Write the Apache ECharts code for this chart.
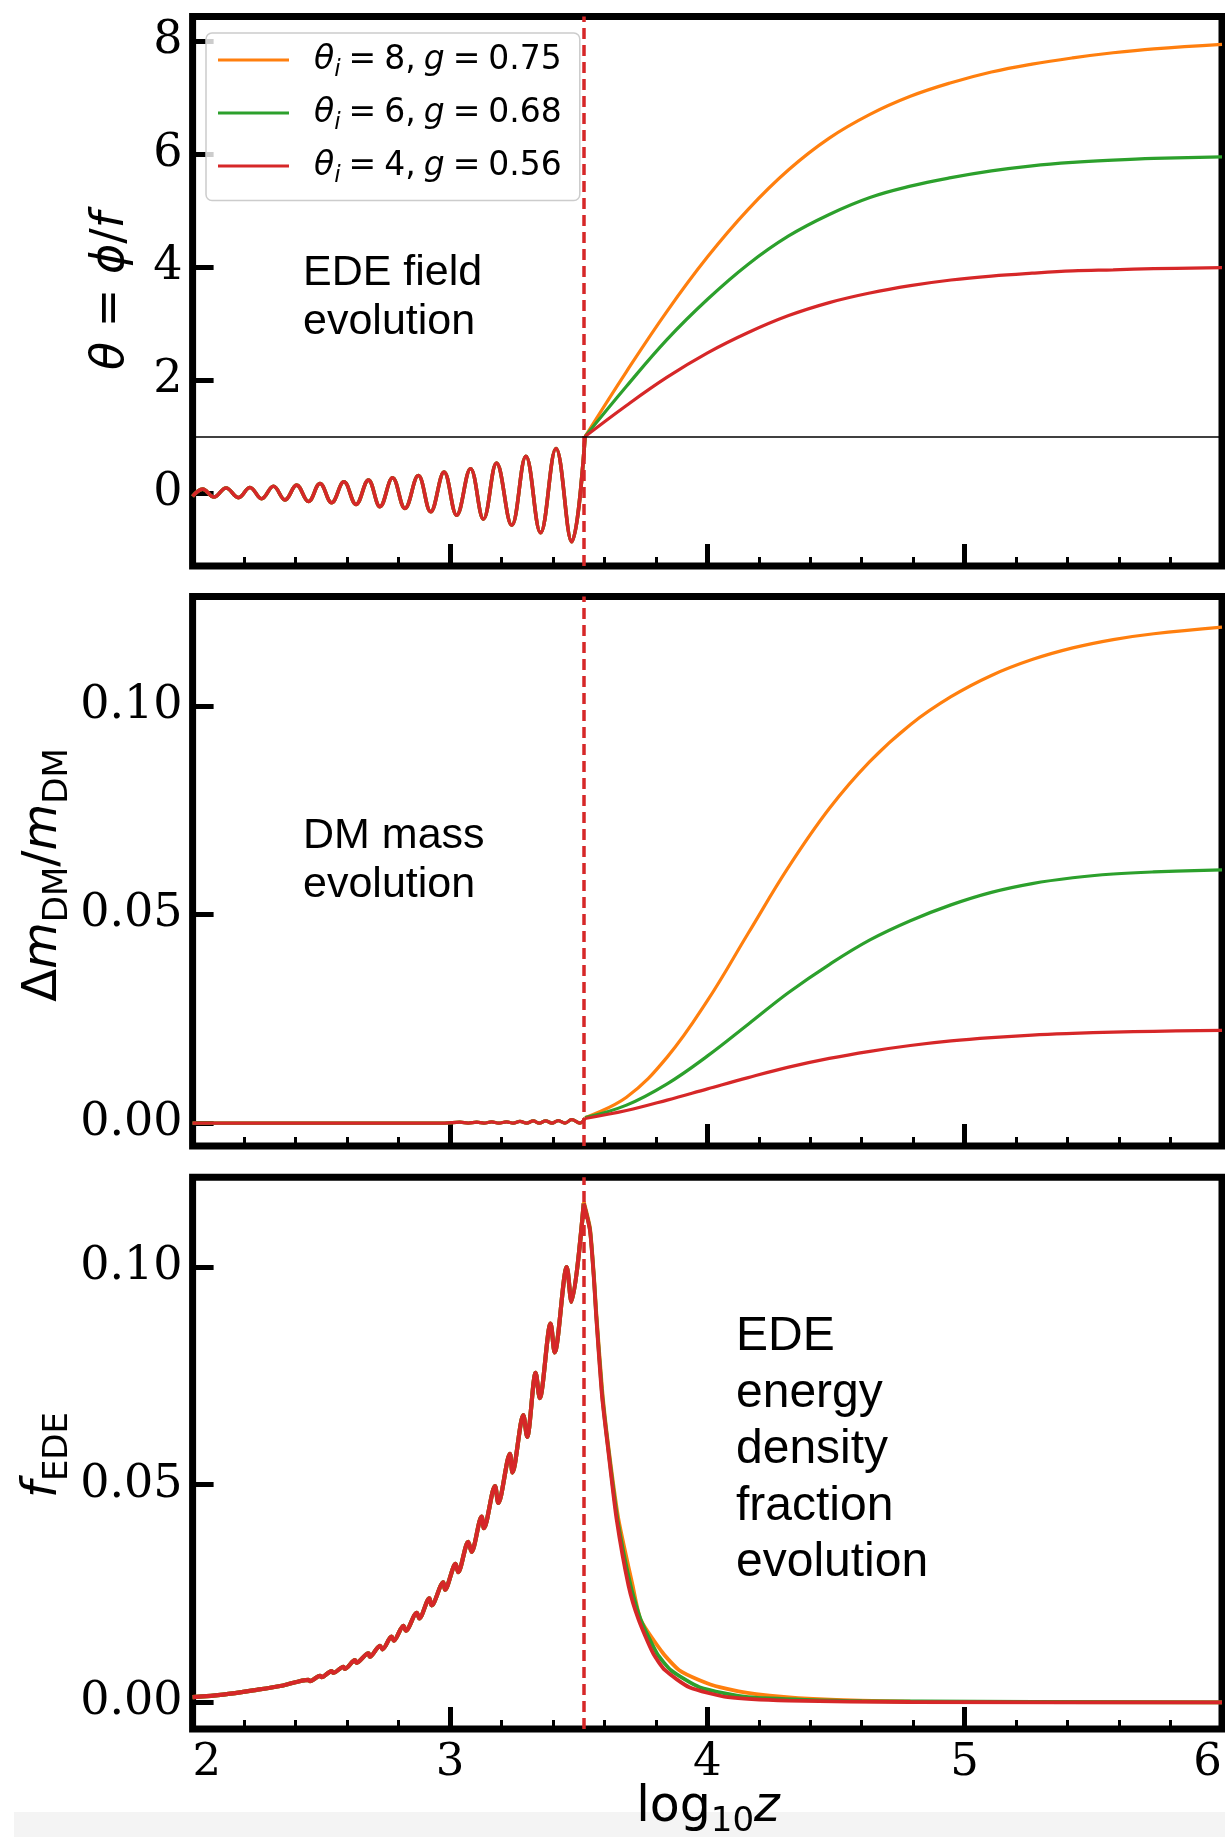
<!DOCTYPE html>
<html>
<head>
<meta charset="utf-8">
<script src="https://cdn.jsdelivr.net/npm/echarts@6/dist/echarts.min.js"></script>
<style>
  html, body { margin: 0; padding: 0; background: #ffffff; }
  #chart { width: 1225px; height: 1837px; }
</style>
</head>
<body>
<div id="chart"></div>
<script>
// ---------------------------------------------------------------
// Data (x = log10 z)
// ---------------------------------------------------------------
const seriesNames = ['θi=8, g=0.75', 'θi=6, g=0.68', 'θi=4, g=0.56'];
const legendLabels = [
  '{gap| }{it|θ}{sub|i}{s| }{n|=}{s| }{n|8,}{s| }{it|g}{s| }{n|=}{s| }{n|0.75}',
  '{gap| }{it|θ}{sub|i}{s| }{n|=}{s| }{n|6,}{s| }{it|g}{s| }{n|=}{s| }{n|0.68}',
  '{gap| }{it|θ}{sub|i}{s| }{n|=}{s| }{n|4,}{s| }{it|g}{s| }{n|=}{s| }{n|0.56}'
];
const lineColors = ['#ff7f0e', '#2ca02c', '#d62728'];

const xRange = [2, 6];
const xTickStep = 1;
const releaseLogZ = 3.525;      // vertical dashed marker
const thetaRef = 1;             // horizontal reference level in the top panel

const yRanges = [[-1.29, 8.43], [-0.0055, 0.1262], [-0.0061, 0.1206]];
const yTickValues = [[0, 2, 4, 6, 8], [0, 0.05, 0.10], [0, 0.05, 0.10]];

// Top panel: field oscillation at low z (identical for all three runs)
const thetaOsc = [
  [2.000,-0.06],[2.039,0.07],[2.083,-0.07],[2.130,0.09],[2.178,-0.08],[2.223,0.10],
  [2.268,-0.10],[2.314,0.12],[2.359,-0.12],[2.404,0.14],[2.450,-0.15],[2.495,0.17],
  [2.540,-0.17],[2.588,0.20],[2.635,-0.20],[2.683,0.23],[2.728,-0.24],[2.777,0.27],
  [2.825,-0.27],[2.877,0.31],[2.925,-0.33],[2.977,0.37],[3.026,-0.39],[3.080,0.43],
  [3.130,-0.46],[3.181,0.53],[3.240,-0.57],[3.295,0.65],[3.352,-0.70],[3.412,0.79],
  [3.473,-0.86],[3.525,1.00]
];
// Top panel: frozen-field branch at high z, one per run
const thetaOrange = [
  [3.525,1.00],[3.686,2.15],[3.844,3.22],[4.001,4.18],[4.159,5.02],[4.316,5.72],
  [4.474,6.28],[4.632,6.70],[4.789,7.02],[4.947,7.26],[5.104,7.45],[5.262,7.59],
  [5.420,7.70],[5.577,7.79],[5.735,7.86],[6.000,7.94]
];
const thetaGreen = [
  [3.525,1.00],[3.686,1.89],[3.844,2.72],[4.001,3.43],[4.159,4.05],[4.316,4.55],
  [4.474,4.93],[4.632,5.23],[4.789,5.43],[4.947,5.58],[5.104,5.70],[5.262,5.79],
  [5.420,5.85],[5.577,5.89],[5.735,5.92],[6.000,5.95]
];
const thetaRed = [
  [3.525,1.00],[3.686,1.55],[3.844,2.05],[4.001,2.48],[4.159,2.84],[4.316,3.14],
  [4.474,3.37],[4.632,3.54],[4.789,3.67],[4.947,3.77],[5.104,3.84],[5.262,3.89],
  [5.420,3.93],[5.577,3.95],[5.735,3.97],[6.000,3.99]
];

// Middle panel: DM mass shift, small ripple at low z
const dmOsc = [
  [2.000,0],[2.980,0],[3.039,0.0002],[3.071,0],[3.104,0.0002],[3.132,0],[3.162,0.0003],
  [3.190,0],[3.220,0.0003],[3.246,0],[3.272,0.0004],[3.298,0],[3.324,0.0005],[3.347,0],
  [3.372,0.0005],[3.396,0],[3.421,0.0006],[3.447,0],[3.473,0.0008],[3.505,0],[3.525,0.0012]
];
const dmOrange = [
  [3.525,0.0013],[3.686,0.0062],[3.844,0.0158],[4.001,0.0294],[4.159,0.0455],[4.316,0.0614],
  [4.474,0.0754],[4.632,0.0867],[4.789,0.0955],[4.947,0.1022],[5.104,0.1073],[5.262,0.1111],
  [5.420,0.1139],[5.577,0.1159],[5.735,0.1173],[6.000,0.1189]
];
const dmGreen = [
  [3.525,0.0013],[3.686,0.0043],[3.844,0.0094],[4.001,0.0161],[4.159,0.0237],[4.316,0.0313],
  [4.474,0.0380],[4.632,0.0439],[4.789,0.0485],[4.947,0.0523],[5.104,0.0553],[5.262,0.0574],
  [5.420,0.0588],[5.577,0.0597],[5.735,0.0602],[6.000,0.0607]
];
const dmRed = [
  [3.525,0.0011],[3.686,0.0030],[3.844,0.0055],[4.001,0.0082],[4.159,0.0109],[4.316,0.0134],
  [4.474,0.0155],[4.632,0.0172],[4.789,0.0186],[4.947,0.0197],[5.104,0.0205],[5.262,0.0211],
  [5.420,0.0215],[5.577,0.0218],[5.735,0.0220],[6.000,0.0222]
];

// Bottom panel: EDE fraction, saw-tooth growth up to the peak
const fedeRise = [
  [2.000,0.0012],[2.119,0.0018],[2.249,0.0029],[2.352,0.0039],[2.450,0.0052],[2.456,0.0049],
  [2.495,0.0061],[2.501,0.0058],[2.540,0.0072],[2.547,0.0068],[2.586,0.0082],[2.592,0.0077],
  [2.631,0.0097],[2.637,0.0091],[2.683,0.0113],[2.689,0.0105],[2.728,0.0130],[2.738,0.0122],
  [2.773,0.0151],[2.782,0.0142],[2.819,0.0176],[2.829,0.0165],[2.871,0.0206],[2.881,0.0193],
  [2.920,0.0239],[2.929,0.0223],[2.974,0.0276],[2.981,0.0259],[3.022,0.0318],[3.032,0.0299],
  [3.071,0.0369],[3.084,0.0346],[3.123,0.0427],[3.132,0.0400],[3.175,0.0497],[3.188,0.0458],
  [3.233,0.0571],[3.243,0.0528],[3.285,0.0660],[3.300,0.0610],[3.333,0.0757],[3.349,0.0699],
  [3.391,0.0870],[3.407,0.0804],[3.454,0.1000],[3.472,0.0920],[3.520,0.1146]
];
const fedeOrange = [
  [3.520,0.1150],[3.544,0.1090],[3.560,0.0975],[3.568,0.0900],[3.591,0.0720],[3.615,0.0590],
  [3.654,0.0423],[3.710,0.0268],[3.741,0.0190],[3.828,0.0113],[3.891,0.0074],[3.970,0.0051],
  [4.048,0.0035],[4.190,0.0019],[4.411,0.0008],[4.789,0.0002],[6.000,0.0000]
];
const fedeGreen = [
  [3.520,0.1146],[3.544,0.1086],[3.560,0.0970],[3.568,0.0893],[3.591,0.0710],[3.615,0.0584],
  [3.650,0.0423],[3.702,0.0268],[3.741,0.0190],[3.804,0.0113],[3.859,0.0074],[3.970,0.0035],
  [4.159,0.0012],[4.600,0.0003],[6.000,0.0000]
];
const fedeRed = [
  [3.520,0.1146],[3.544,0.1084],[3.560,0.0967],[3.568,0.0889],[3.591,0.0703],[3.615,0.0579],
  [3.647,0.0423],[3.694,0.0268],[3.733,0.0190],[3.789,0.0113],[3.836,0.0074],[3.930,0.0035],
  [4.080,0.0012],[4.316,0.0004],[4.789,0.0001],[6.000,0.0000]
];

// ---------------------------------------------------------------
// Chart
// ---------------------------------------------------------------
const chart = echarts.init(document.getElementById('chart'), null, { renderer: 'canvas' });

const SERIF = '"DejaVu Serif", serif';
const SANS_MATH = '"DejaVu Sans", sans-serif';
const SANS_TEXT = '"Liberation Sans", Arial, sans-serif';

const grids = [
  { left: 192.6, right: 3, top: 16.6, height: 549.4 },
  { left: 192.6, right: 3, top: 596.6, height: 549.4 },
  { left: 192.6, right: 3, top: 1177.3, height: 551.7 }
].map(g => Object.assign(g, { show: true, borderColor: '#000', borderWidth: 7, backgroundColor: 'transparent' }));

const xAxes = grids.map((g, i) => ({
  type: 'value', gridIndex: i, min: xRange[0], max: xRange[1], interval: xTickStep,
  axisLine: { show: false, onZero: false },
  splitLine: { show: false },
  axisTick: { show: true, inside: true, length: 22, lineStyle: { color: '#000', width: 5 } },
  minorTick: { show: true, splitNumber: 5, length: 9, lineStyle: { color: '#000', width: 3 } },
  minorSplitLine: { show: false },
  axisLabel: {
    show: i === 2, margin: 12, color: '#000', fontFamily: SERIF, fontSize: 45,
    alignMinLabel: 'left', alignMaxLabel: 'right',
    formatter: v => String(v)
  }
}));

const yAxes = grids.map((g, i) => ({
  type: 'value', gridIndex: i, min: yRanges[i][0], max: yRanges[i][1],
  axisLine: { show: false, onZero: false },
  splitLine: { show: false },
  axisTick: { show: true, inside: true, length: 21, customValues: yTickValues[i],
              lineStyle: { color: '#000', width: 5 } },
  axisLabel: {
    show: true, margin: 10, color: '#000', fontFamily: SERIF, fontSize: 46,
    customValues: yTickValues[i],
    formatter: v => (i === 0 ? String(v) : v.toFixed(2))
  }
}));

const panels = [
  { shared: thetaOsc, own: [thetaOrange, thetaGreen, thetaRed], width: [3.6, 3.2], smooth: [0.4, 0.4] },
  { shared: dmOsc,    own: [dmOrange, dmGreen, dmRed],          width: [3.2, 3.2], smooth: [0.4, 0.4] },
  { shared: fedeRise, own: [fedeOrange, fedeGreen, fedeRed],    width: [4.2, 3.8], smooth: [0.3, 0.2] }
];

function lineSeries(i, j, data, width, smooth) {
  return {
    name: seriesNames[j], type: 'line', xAxisIndex: i, yAxisIndex: i,
    data: data, showSymbol: false, symbol: 'none', smooth: smooth,
    lineStyle: { color: lineColors[j], width: width },
    itemStyle: { color: lineColors[j] },
    emphasis: { disabled: true }, silent: true
  };
}

const series = [];
panels.forEach((p, i) => {
  // branch below the release redshift (all runs overlap; red drawn last)
  p.own.forEach((tail, j) => series.push(lineSeries(i, j, p.shared, p.width[0], p.smooth[0])));
  // branch above the release redshift
  p.own.forEach((tail, j) => {
    const s = lineSeries(i, j, tail, p.width[1], p.smooth[1]);
    if (j === 2) {
      const lines = [{ xAxis: releaseLogZ,
                       lineStyle: { color: '#d62728', width: 3.5, type: [11, 6] } }];
      if (i === 0) {
        lines.push({ yAxis: thetaRef, lineStyle: { color: '#000', width: 1.6, type: 'solid' } });
      }
      s.markLine = { silent: true, symbol: ['none', 'none'], label: { show: false }, data: lines };
    }
    series.push(s);
  });
});

const subTitleRich = {
  n:   { fontFamily: SANS_MATH, fontSize: 48, lineHeight: 56, color: '#000' },
  it:  { fontFamily: SANS_MATH, fontSize: 48, lineHeight: 56, fontStyle: 'italic', color: '#000' },
  sub: { fontFamily: SANS_MATH, fontSize: 34, lineHeight: 56, height: 27, verticalAlign: 'bottom', color: '#000' }
};
const thetaTitleRich = {
  n:  { fontFamily: SANS_MATH, fontSize: 46, lineHeight: 56, color: '#000' },
  it: { fontFamily: SANS_MATH, fontSize: 46, lineHeight: 56, fontStyle: 'italic', color: '#000' }
};

const option = {
  animation: false,
  backgroundColor: '#ffffff',
  grid: grids,
  xAxis: xAxes,
  yAxis: yAxes,
  series: series,
  legend: {
    data: seriesNames,
    orient: 'vertical', left: 206, top: 33,
    icon: 'rect', itemWidth: 71, itemHeight: 3, itemGap: 11.5,
    padding: [7, 18, 13, 12],
    backgroundColor: 'rgba(255,255,255,0.8)',
    borderColor: '#cccccc', borderWidth: 1.5, borderRadius: 6,
    selectedMode: false,
    formatter: name => legendLabels[seriesNames.indexOf(name)],
    textStyle: {
      color: '#000', fontFamily: SANS_MATH, fontSize: 33, lineHeight: 40,
      rich: {
        gap: { width: 20, fontSize: 33, lineHeight: 40 },
        s:   { width: 8, fontSize: 33, lineHeight: 40 },
        n:   { fontFamily: SANS_MATH, fontSize: 33, lineHeight: 40, color: '#000' },
        it:  { fontFamily: SANS_MATH, fontSize: 33, lineHeight: 40, fontStyle: 'italic', color: '#000' },
        sub: { fontFamily: SANS_MATH, fontSize: 23, lineHeight: 40, height: 20, verticalAlign: 'bottom',
               fontStyle: 'italic', color: '#000' }
      }
    }
  },
  graphic: [
    { type: 'rect', z: -10, silent: true,
      shape: { x: 14, y: 1812, width: 1211, height: 25 }, style: { fill: '#f4f4f4' } },
    // panel annotations
    { type: 'text', x: 303, y: 249, silent: true,
      style: { text: 'EDE field\nevolution', fontFamily: SANS_TEXT, fontSize: 43, lineHeight: 48.5,
               fill: '#000', verticalAlign: 'top', align: 'left' } },
    { type: 'text', x: 303, y: 812, silent: true,
      style: { text: 'DM mass\nevolution', fontFamily: SANS_TEXT, fontSize: 43, lineHeight: 48.5,
               fill: '#000', verticalAlign: 'top', align: 'left' } },
    { type: 'text', x: 736, y: 1309, silent: true,
      style: { text: 'EDE\nenergy\ndensity\nfraction\nevolution', fontFamily: SANS_TEXT, fontSize: 48,
               lineHeight: 56.5, fill: '#000', verticalAlign: 'top', align: 'left' } },
    // axis titles
    { type: 'text', x: 111, y: 291, rotation: Math.PI / 2, silent: true,
      style: { text: '{it|θ}{n| = }{it|ϕ}{n|/}{it|f}', rich: thetaTitleRich,
               align: 'center', verticalAlign: 'middle' } },
    { type: 'text', x: 44, y: 875, rotation: Math.PI / 2, silent: true,
      style: { text: '{n|Δ}{it|m}{sub|DM}{n|/}{it|m}{sub|DM}', rich: subTitleRich,
               align: 'center', verticalAlign: 'middle' } },
    { type: 'text', x: 44, y: 1455, rotation: Math.PI / 2, silent: true,
      style: { text: '{it|f}{sub|EDE}', rich: subTitleRich,
               align: 'center', verticalAlign: 'middle' } },
    { type: 'text', x: 708, y: 1779, silent: true, z: 10,
      style: { text: '{n|log}{sub|10}{it|z}', rich: {
                 n:   { fontFamily: SANS_MATH, fontSize: 49, lineHeight: 58, color: '#000' },
                 it:  { fontFamily: SANS_MATH, fontSize: 49, lineHeight: 58, fontStyle: 'italic', color: '#000' },
                 sub: { fontFamily: SANS_MATH, fontSize: 34, lineHeight: 58, height: 29, verticalAlign: 'bottom', color: '#000' }
               },
               align: 'center', verticalAlign: 'top' } }
  ]
};

chart.setOption(option);
</script>
</body>
</html>
